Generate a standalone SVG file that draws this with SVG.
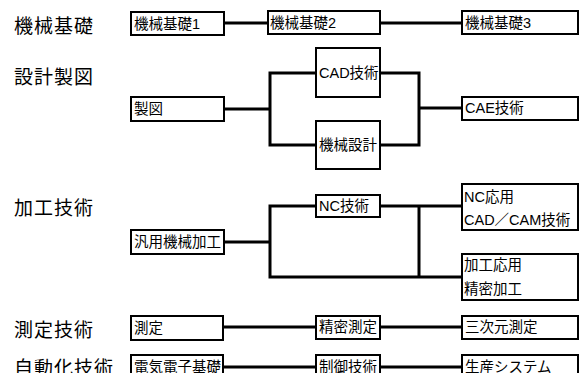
<svg xmlns="http://www.w3.org/2000/svg" width="581" height="373" viewBox="0 0 581 373">
<style>
.bx{fill:#fff;stroke:#000;stroke-width:2}
.ln{fill:none;stroke:#000;stroke-width:3;stroke-linejoin:miter;stroke-linecap:butt}
.t{font-family:"Liberation Sans","Noto Sans CJK JP",sans-serif;font-size:14.5px;fill:#000;dominant-baseline:central}
.h{font-family:"Noto Sans CJK JP",sans-serif;font-size:19px;fill:#000;dominant-baseline:central;letter-spacing:1px}
</style>
<rect width="581" height="373" fill="#fff"/>
<g id="connectors">
<path class="ln" d="M224 23H268M380 23H462"/>
<path class="ln" d="M224 109H270M316 73H270V145H316M380 73H419V145H380M419 108H462"/>
<path class="ln" d="M224 242H270M316 206H270V277H462M380 206H462M419 206V277"/>
<path class="ln" d="M223 327H316M380 327H462"/>
<path class="ln" d="M223 367H316M380 367H462"/>
</g>
<g id="labels">
<text class="h" x="14" y="24">機械基礎</text>
<text class="h" x="14" y="75">設計製図</text>
<text class="h" x="14" y="206">加工技術</text>
<text class="h" x="14" y="328">測定技術</text>
<text class="h" x="14" y="366">自動化技術</text>
</g>
<g id="n1"><rect class="bx" x="131" y="12" width="93" height="23"/><text class="t" x="134" y="24">機械基礎1</text></g>
<g id="n2"><rect class="bx" x="268" y="11" width="112" height="23"/><text class="t" x="270" y="23">機械基礎2</text></g>
<g id="n3"><rect class="bx" x="462" y="11" width="116" height="23"/><text class="t" x="465" y="23">機械基礎3</text></g>
<g id="n4"><rect class="bx" x="131" y="97" width="93" height="24"/><text class="t" x="134" y="109">製図</text></g>
<g id="n5"><rect class="bx" x="316" y="48" width="64" height="49"/><text class="t" x="319" y="73">CAD技術</text></g>
<g id="n6"><rect class="bx" x="316" y="121" width="64" height="48"/><text class="t" x="319" y="145">機械設計</text></g>
<g id="n7"><rect class="bx" x="462" y="97" width="116" height="23"/><text class="t" x="465" y="108">CAE技術</text></g>
<g id="n8"><rect class="bx" x="131" y="230" width="93" height="24"/><text class="t" x="134" y="242">汎用機械加工</text></g>
<g id="n9"><rect class="bx" x="316" y="195" width="64" height="22"/><text class="t" x="319" y="206">NC技術</text></g>
<g id="n10"><rect class="bx" x="462" y="184" width="116" height="46"/><text class="t" x="464" y="197">NC応用</text><text class="t" x="464" y="220">CAD／CAM技術</text></g>
<g id="n11"><rect class="bx" x="462" y="254" width="116" height="46"/><text class="t" x="464" y="265">加工応用</text><text class="t" x="464" y="289">精密加工</text></g>
<g id="n12"><rect class="bx" x="131" y="316" width="92" height="24"/><text class="t" x="134" y="328">測定</text></g>
<g id="n13"><rect class="bx" x="316" y="316" width="64" height="23"/><text class="t" x="319" y="327">精密測定</text></g>
<g id="n14"><rect class="bx" x="462" y="316" width="116" height="23"/><text class="t" x="465" y="327">三次元測定</text></g>
<g id="n15"><rect class="bx" x="131" y="355" width="92" height="24"/><text class="t" x="134" y="367">電気電子基礎</text></g>
<g id="n16"><rect class="bx" x="316" y="355" width="64" height="24"/><text class="t" x="319" y="367">制御技術</text></g>
<g id="n17"><rect class="bx" x="462" y="355" width="116" height="24"/><text class="t" x="465" y="367">生産システム</text></g>
</svg>
